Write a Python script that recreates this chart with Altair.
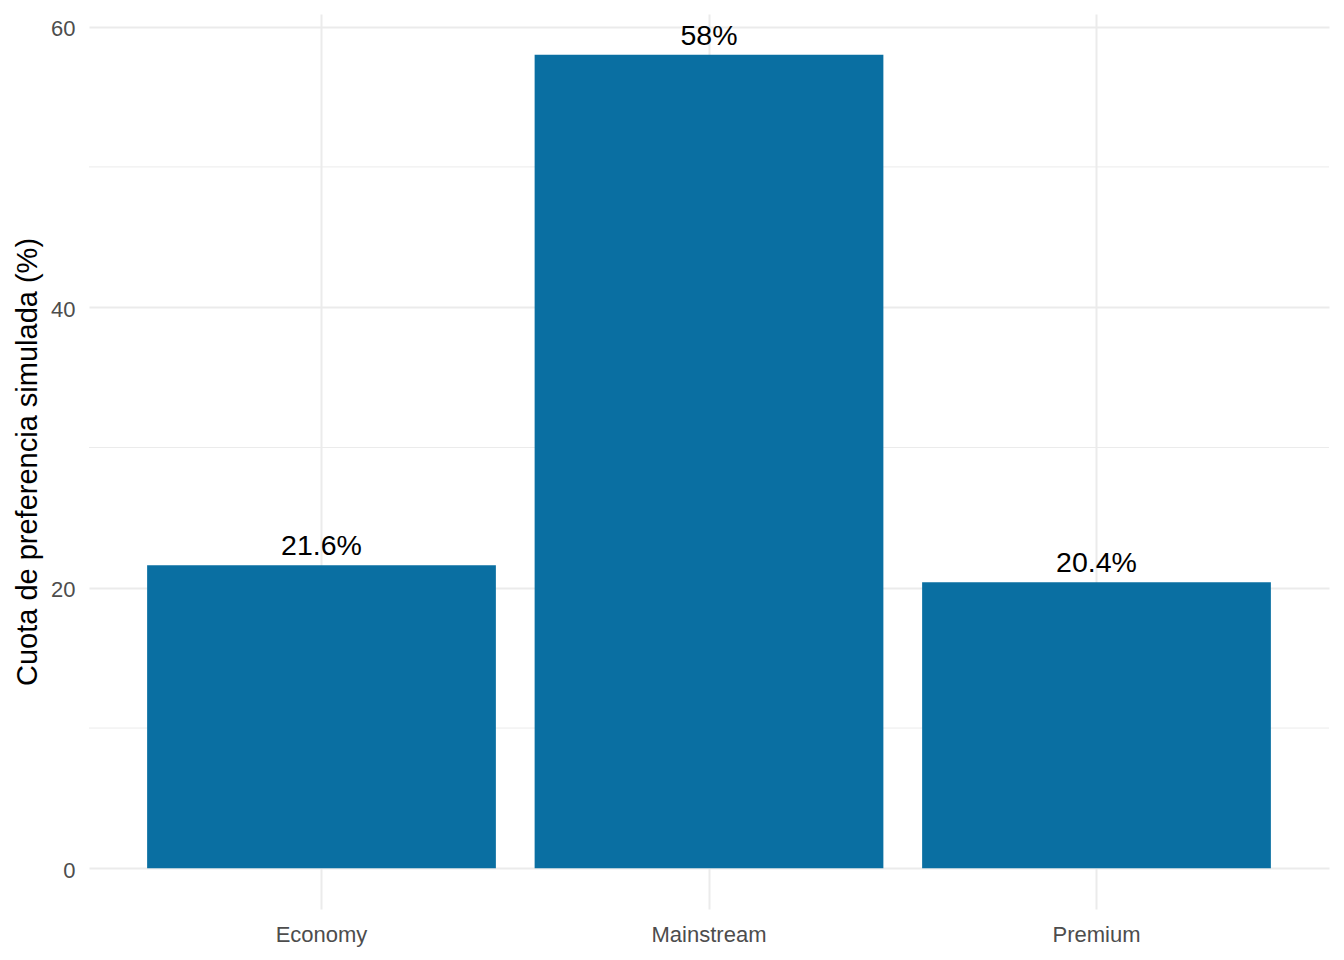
import altair as alt
import pandas as pd

categories = ["Economy", "Mainstream", "Premium"]
shares = [21.6, 58.0, 20.4]
share_labels = ["21.6%", "58%", "20.4%"]
major_ticks = [0, 20, 40, 60]
minor_ticks = [10, 30, 50]

df = pd.DataFrame({"segment": categories, "share": shares, "label": share_labels})
minor_df = pd.DataFrame({"v": minor_ticks})

FONT = "Liberation Sans"
GRID = "#EBEBEB"

yscale = alt.Scale(domain=[-2.9, 60.9], nice=False, zero=False)
xscale = alt.Scale(paddingInner=0.1, paddingOuter=0.15)

yaxis = alt.Axis(
    title="Cuota de preferencia simulada (%)",
    values=major_ticks,
    format="d",
    grid=True,
    gridColor=GRID,
    gridWidth=2,
    domain=False,
    ticks=False,
    tickSize=0,
    labelFont=FONT,
    labelFontSize=22,
    labelColor="#4D4D4D",
    labelBaseline="alphabetic",
    labelOffset=9,
    labelPadding=14,
    titleFont=FONT,
    titleFontSize=29,
    titleFontWeight="normal",
    titleColor="#000000",
    titleBaseline="alphabetic",
    titleX=-53,
    titleY=447.5,
    titleAngle=270,
    titleAlign="center",
)

minor = alt.Chart(minor_df).mark_rule(color=GRID, strokeWidth=1).encode(
    y=alt.Y("v:Q", scale=yscale, axis=yaxis)
)

base = alt.Chart(df)

bars = base.mark_bar(color="#0A6FA2").encode(
    x=alt.X(
        "segment:N",
        sort=categories,
        scale=xscale,
        axis=alt.Axis(
            title=None,
            grid=True,
            gridColor=GRID,
            gridWidth=2,
            domain=False,
            ticks=False,
            tickSize=0,
            bandPosition=0.5,
            labelFont=FONT,
            labelFontSize=22,
            labelColor="#4D4D4D",
            labelBaseline="alphabetic",
            labelPadding=32,
            labelAngle=0,
        ),
    ),
    y=alt.Y("share:Q", scale=yscale, axis=yaxis),
    y2=alt.datum(0),
)

text = base.mark_text(
    font=FONT, fontSize=28.5, color="#000000", baseline="alphabetic", dy=-10
).encode(
    x=alt.X("segment:N", sort=categories, scale=xscale),
    y=alt.Y("share:Q", scale=yscale),
    text="label:N",
)

chart = (
    alt.layer(minor, bars, text)
    .properties(
        width=1240,
        height=895,
        autosize=alt.AutoSizeParams(type="none"),
        padding={"left": 81, "top": 6, "right": 7, "bottom": 43},
        background="white",
    )
    .configure_view(stroke=None)
)

chart.save("out.html", embed_options={"renderer": "svg", "actions": False})
